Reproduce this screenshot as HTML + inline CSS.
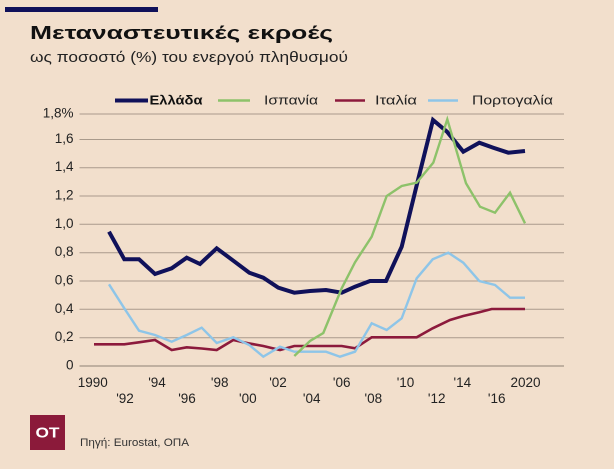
<!DOCTYPE html>
<html><head><meta charset="utf-8"><style>
html,body{margin:0;padding:0;background:#f2dfcc;}
svg{display:block;font-family:"Liberation Sans","DejaVu Sans",sans-serif;}
</style></head><body>
<svg width="614" height="469" viewBox="0 0 614 469" xmlns="http://www.w3.org/2000/svg">
<rect width="614" height="469" fill="#f2dfcc"/>
<rect x="5" y="7" width="153" height="5" fill="#10115a"/>
<text x="30" y="39" font-size="18" font-weight="bold" fill="#111" textLength="303" lengthAdjust="spacingAndGlyphs">Μεταναστευτικές εκροές</text>
<text x="30" y="62" font-size="14.5" fill="#222" textLength="318" lengthAdjust="spacingAndGlyphs">ως ποσοστό (%) του ενεργού πληθυσμού</text>

<!-- legend -->
<line x1="115" y1="100.5" x2="148" y2="100.5" stroke="#10115a" stroke-width="4"/>
<text x="149.5" y="104.5" font-size="13" font-weight="bold" fill="#111" textLength="53" lengthAdjust="spacingAndGlyphs">Ελλάδα</text>
<line x1="218" y1="100.5" x2="250" y2="100.5" stroke="#8dc26a" stroke-width="2.5"/>
<text x="264" y="104.5" font-size="13" fill="#222" textLength="54" lengthAdjust="spacingAndGlyphs">Ισπανία</text>
<line x1="335" y1="100.5" x2="365" y2="100.5" stroke="#8c1a3c" stroke-width="2.5"/>
<text x="375" y="104.5" font-size="13" fill="#222" textLength="42" lengthAdjust="spacingAndGlyphs">Ιταλία</text>
<line x1="428" y1="100.5" x2="458" y2="100.5" stroke="#8ec5e8" stroke-width="2.5"/>
<text x="472" y="104.5" font-size="13" fill="#222" textLength="81" lengthAdjust="spacingAndGlyphs">Πορτογαλία</text>

<!-- gridlines -->
<g stroke="#a99a8b" stroke-width="1">
<line x1="79.5" y1="114" x2="564" y2="114"/>
<line x1="79.5" y1="139.5" x2="564" y2="139.5"/>
<line x1="79.5" y1="167.7" x2="564" y2="167.7"/>
<line x1="79.5" y1="196" x2="564" y2="196"/>
<line x1="79.5" y1="224.3" x2="564" y2="224.3"/>
<line x1="79.5" y1="252.7" x2="564" y2="252.7"/>
<line x1="79.5" y1="281" x2="564" y2="281"/>
<line x1="79.5" y1="309.3" x2="564" y2="309.3"/>
<line x1="79.5" y1="337.7" x2="564" y2="337.7"/>
<line x1="79.5" y1="366" x2="564" y2="366" stroke="#8f8275"/>
</g>

<!-- y labels -->
<g font-size="13.5" fill="#222" text-anchor="end">
<text x="73.5" y="117.5">1,8%</text>
<text x="73.5" y="143">1,6</text>
<text x="73.5" y="171.2">1,4</text>
<text x="73.5" y="199.5">1,2</text>
<text x="73.5" y="227.8">1,0</text>
<text x="73.5" y="256.2">0,8</text>
<text x="73.5" y="284.5">0,6</text>
<text x="73.5" y="312.8">0,4</text>
<text x="73.5" y="341.2">0,2</text>
<text x="73.5" y="369.5">0</text>
</g>

<!-- x labels -->
<g font-size="13.5" fill="#222" text-anchor="middle">
<text x="92.8" y="387">1990</text>
<text x="157" y="387">'94</text>
<text x="219.7" y="387">'98</text>
<text x="278" y="387">'02</text>
<text x="341.7" y="387">'06</text>
<text x="405.5" y="387">'10</text>
<text x="462.3" y="387">'14</text>
<text x="525.5" y="387">2020</text>
<text x="125" y="403">'92</text>
<text x="187" y="403">'96</text>
<text x="247.8" y="403">'00</text>
<text x="311.7" y="403">'04</text>
<text x="373.3" y="403">'08</text>
<text x="436.7" y="403">'12</text>
<text x="496.7" y="403">'16</text>
</g>

<!-- series -->
<g fill="none" stroke-linejoin="miter" stroke-linecap="butt">
<polyline stroke="#8c1a3c" stroke-width="2.6" points="94,344.3 109,344.3 124.3,344.3 139,342.3 155,340 171.7,350 186.7,347.3 201.7,348.5 216.7,350 233.3,340 248.3,343.3 263.3,346 280,350 294.3,346 310,346 326,346 341.7,346 355,348.3 371.7,337.3 386.7,337.3 401.7,337.3 416.7,337.3 432.7,328.3 450,320 463.3,316 479.3,312.3 491.7,309 508.3,309 525,309"/>
<polyline stroke="#8ec5e8" stroke-width="2.4" points="109,284.3 124.3,308.3 139,330.7 155,335 171.7,341.7 186.7,335 201.7,327.7 216.7,343 233.3,337.3 249.3,345 263.3,356.7 280,346.7 294.3,351.7 310,351.7 326,351.7 340,356.7 355,351.7 371.7,323.3 386.7,330 401.7,318.3 416.7,278.3 432.7,259.3 448.3,252.7 463.3,262.7 479.3,281 495,285 510,297.7 525,297.7"/>
<polyline stroke="#10115a" stroke-width="4" points="109,231.7 124.3,259.3 139,259.3 155,274 171.7,268.3 186.7,257.7 200,264 216.7,248.3 233.3,260.7 249.3,272.7 263.3,277.7 278.3,287.7 294.3,292.7 310,291 326,290 341.7,292.7 355,286.7 370,281 386,281 401.7,246.7 417,184 433,120 447,131.7 463.3,151.7 479.3,142.7 493.3,147.7 508.3,152.7 525,151"/>
<polyline stroke="#8dc26a" stroke-width="2.4" points="294.3,356 310,341 323.3,333 341.7,288.3 355,262.3 371.7,236.7 386.7,196 401.7,186 416.7,182.7 433.3,162.7 447.3,119.3 466,183.3 480,206.7 495,212.7 510,192.7 525,223.3"/>
</g>

<!-- footer -->
<rect x="30" y="415" width="35" height="35" fill="#8b1a3a"/>
<text x="47.5" y="437.5" font-size="15" font-weight="bold" fill="#fff" text-anchor="middle" textLength="24" lengthAdjust="spacingAndGlyphs">OT</text>
<text x="80" y="446" font-size="11" fill="#333" textLength="109" lengthAdjust="spacingAndGlyphs">Πηγή: Eurostat, ΟΠΑ</text>
</svg>
</body></html>
